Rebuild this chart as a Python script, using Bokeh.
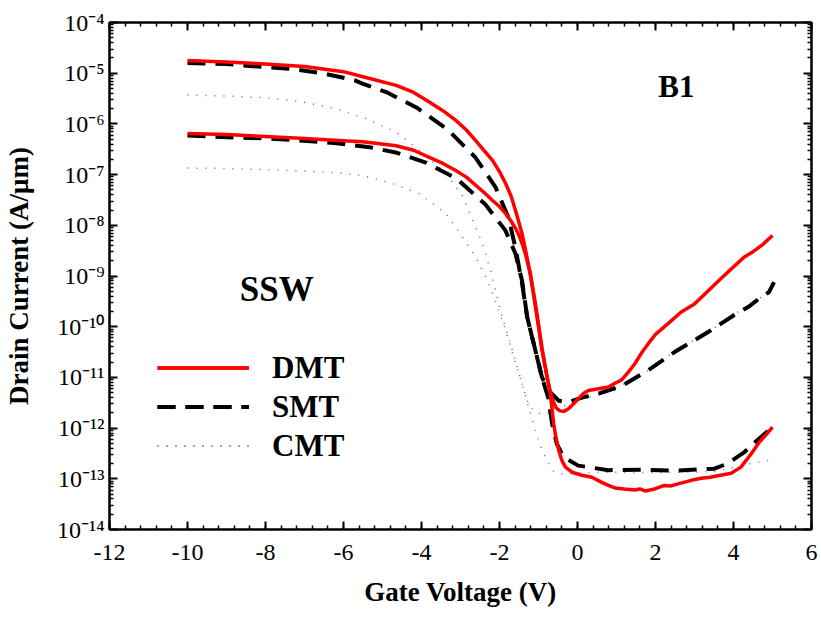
import numpy as np
from bokeh.plotting import figure
from bokeh.models import (FixedTicker, SingleIntervalTicker, LinearAxis, LogAxis,
                          CustomJSTickFormatter, Label, Legend, LegendItem)
from bokeh.embed import file_html
from bokeh.resources import INLINE

# ---------------- data (gate voltage in V, drain current as log10(A/um)) ----------------
dmt_hi_v = [-10, -9, -8, -7, -6, -5.5, -4.65, -4.2, -3.8, -3.45, -3.12, -2.85, -2.61, -2.4,
            -2.18, -2.0, -1.84, -1.7, -1.59, -1.5, -1.42, -1.33, -1.21, -1.1, -1.0, -0.91, -0.78,
            -0.7, -0.62, -0.55, -0.45, -0.35, -0.23, -0.1, 0.02, 0.15, 0.28, 0.5, 0.79, 1.0,
            1.13, 1.3, 1.47, 1.64, 1.81, 2.0, 2.32, 2.66, 3.0, 3.34, 3.68, 4.0, 4.27, 4.5, 4.75,
            5.0]
dmt_hi_log = [-4.75, -4.78, -4.82, -4.87, -4.97, -5.07, -5.24, -5.38, -5.57, -5.74, -5.93,
              -6.12, -6.33, -6.52, -6.72, -6.94, -7.18, -7.43, -7.71, -7.95, -8.17, -8.5, -8.96,
              -9.5, -10.0, -10.47, -11.0, -11.28, -11.48, -11.6, -11.66, -11.67, -11.62, -11.52,
              -11.42, -11.32, -11.26, -11.23, -11.19, -11.1, -11.05, -10.9, -10.73, -10.52,
              -10.34, -10.15, -9.94, -9.71, -9.55, -9.3, -9.05, -8.82, -8.63, -8.52, -8.38, -8.2]

dmt_lo_v = [-10, -9, -8, -7, -6, -5.5, -4.65, -4.2, -3.8, -3.45, -3.12, -2.85, -2.61, -2.4,
            -2.18, -2.0, -1.84, -1.7, -1.59, -1.5, -1.42, -1.33, -1.21, -1.1, -1.0, -0.91, -0.78,
            -0.7, -0.61, -0.55, -0.48, -0.4, -0.31, -0.14, 0.11, 0.37, 0.62, 0.79, 0.96, 1.2,
            1.47, 1.6, 1.73, 1.98, 2.23, 2.4, 2.58, 2.92, 3.17, 3.4, 3.6, 3.94, 4.19, 4.45,
            4.66, 4.85, 5.0]
dmt_lo_log = [-6.19, -6.21, -6.25, -6.29, -6.33, -6.35, -6.43, -6.52, -6.66, -6.78, -6.92,
              -7.05, -7.21, -7.35, -7.51, -7.63, -7.77, -7.92, -8.06, -8.2, -8.36, -8.58, -8.96,
              -9.45, -9.95, -10.42, -10.98, -11.3, -11.92, -12.2, -12.44, -12.64, -12.77, -12.87,
              -12.93, -12.97, -13.07, -13.13, -13.18, -13.2, -13.22, -13.2, -13.24, -13.2,
              -13.13, -13.14, -13.1, -13.03, -12.99, -12.97, -12.94, -12.89, -12.77, -12.51,
              -12.28, -12.12, -11.98]

smt_hi_v = [-10, -9, -8, -7.27, -6.48, -5.71, -5.5, -4.88, -4.12, -3.33, -2.62, -2.1, -1.77,
            -1.59, -1.42, -1.29, -1.08, -0.91, -0.7, -0.48, -0.23, 0.11, 0.54, 1.13, 1.81, 2.49,
            3.34, 4.02, 4.4, 4.7, 4.91, 5.04]
smt_hi_log = [-4.8, -4.82, -4.88, -4.92, -5.01, -5.14, -5.21, -5.38, -5.68, -6.11, -6.66, -7.25,
              -7.85, -8.45, -9.15, -9.81, -10.47, -11.0, -11.29, -11.46, -11.49, -11.4, -11.32,
              -11.17, -10.86, -10.5, -10.11, -9.77, -9.6, -9.42, -9.32, -9.12]

smt_lo_v = [-10, -8.73, -7.88, -7.03, -6.18, -5.33, -4.63, -3.87, -3.1, -2.36, -1.85, -1.59,
            -1.42, -1.29, -1.08, -0.91, -0.75, -0.65, -0.53, -0.36, 0.02, 0.79, 1.64, 2.49, 3.51,
            3.85, 4.27, 4.61, 5.0]
smt_lo_log = [-6.23, -6.27, -6.29, -6.33, -6.38, -6.46, -6.57, -6.77, -7.08, -7.59, -8.1, -8.56,
              -9.1, -9.81, -10.47, -11.0, -11.4, -11.92, -12.31, -12.57, -12.74, -12.83, -12.82,
              -12.84, -12.8, -12.7, -12.48, -12.24, -11.98]

cmt_hi_v = [-10, -9, -7.88, -7.03, -6.18, -5.41, -4.65, -4.05, -3.37, -2.95, -2.68, -2.44,
            -2.23, -1.93, -1.67, -1.42, -1.25, -1.05, -0.82, -0.5, -0.2, 0.11, 0.62, 1.13, 1.81,
            2.49, 3.34, 4.02, 4.7, 5.04]
cmt_hi_log = [-5.43, -5.45, -5.49, -5.57, -5.7, -5.9, -6.16, -6.52, -6.98, -7.42, -7.91, -8.35,
              -8.9, -9.81, -10.47, -11.13, -11.55, -11.7, -11.72, -11.62, -11.52, -11.43, -11.32,
              -11.16, -10.86, -10.48, -10.11, -9.76, -9.42, -9.18]

cmt_lo_v = [-10, -9, -8, -7.03, -6, -5.33, -4.65, -4.05, -3.37, -3.03, -2.61, -2.35, -2.1,
            -1.85, -1.6, -1.42, -1.25, -1.08, -0.91, -0.65, -0.4, 0.62, 2.0, 3.5, 4.3, 5.04]
cmt_lo_log = [-6.87, -6.88, -6.9, -6.93, -6.97, -7.05, -7.2, -7.38, -7.77, -8.14, -8.63, -9.02,
              -9.5, -10.05, -10.7, -11.13, -11.59, -12.05, -12.44, -12.84, -12.9, -12.87, -12.88,
              -12.86, -12.72, -12.62]

series_names = ["DMT", "SMT", "CMT"]
x_tick_interval = 2
y_decades = list(range(-14, -3))  # 10^-14 ... 10^-4

FONT = "Liberation Serif"

p = figure(width=821, height=620, x_range=(-12, 6), y_range=(1e-14, 1e-4),
           y_axis_type="log", output_backend="svg", toolbar_location=None,
           min_border_left=105, min_border_right=10, min_border_top=22, min_border_bottom=91)
p.xgrid.visible = False
p.ygrid.visible = False
p.outline_line_color = "black"
p.outline_line_width = 2
p.background_fill_color = "white"
p.border_fill_color = "white"

xticker = SingleIntervalTicker(interval=x_tick_interval, num_minor_ticks=5)
yticker = FixedTicker(ticks=[10.0 ** e for e in y_decades],
                      minor_ticks=[m * 10.0 ** e for e in y_decades[:-1] for m in range(2, 10)])

yfmt = CustomJSTickFormatter(code="""
const sup = {'0':'\u2070','1':'\u00b9','2':'\u00b2','3':'\u00b3','4':'\u2074','5':'\u2075',
             '6':'\u2076','7':'\u2077','8':'\u2078','9':'\u2079','-':'\u207b'};
const e = Math.round(Math.log10(tick));
return '10' + String(e).split('').map(c => sup[c]).join('');
""")
xfmt = CustomJSTickFormatter(code="return tick.toFixed(0);")
blank = CustomJSTickFormatter(code="return '';")


def style(ax):
    ax.axis_line_width = 2
    ax.axis_line_color = "black"
    ax.major_tick_in = 8
    ax.major_tick_out = 0
    ax.minor_tick_in = 4
    ax.minor_tick_out = 0
    ax.major_tick_line_width = 2
    ax.minor_tick_line_width = 1.5
    ax.major_tick_line_color = "black"
    ax.minor_tick_line_color = "black"
    ax.major_label_text_font = FONT
    ax.major_label_text_font_size = "24px"
    ax.major_label_text_color = "black"
    ax.axis_label_text_font = FONT
    ax.axis_label_text_font_style = "bold"
    ax.axis_label_text_font_size = "27px"
    ax.axis_label_text_color = "black"


xa = p.xaxis[0]
xa.ticker = xticker
xa.formatter = xfmt
style(xa)
xa.major_label_standoff = 15
xa.axis_label = "Gate Voltage (V)"
xa.axis_label_standoff = 14

ya = p.yaxis[0]
ya.ticker = yticker
ya.formatter = yfmt
style(ya)
ya.major_label_standoff = 5
ya.axis_label = "Drain Current (A/\u03bcm)"
ya.axis_label_standoff = 20

top = LinearAxis(ticker=xticker, formatter=blank)
style(top)
top.major_label_standoff = 0
p.add_layout(top, "above")

right = LogAxis(ticker=yticker, formatter=blank)
style(right)
right.major_label_standoff = 0
p.add_layout(right, "right")


def curr(logs):
    return [10.0 ** v for v in logs]


c_hi = p.line(cmt_hi_v, curr(cmt_hi_log), line_color="#5a5aff", line_width=1.5, line_dash="1 8")
c_lo = p.line(cmt_lo_v, curr(cmt_lo_log), line_color="#5a5aff", line_width=1.5, line_dash="1 8")
s_hi = p.line(smt_hi_v, curr(smt_hi_log), line_color="black", line_width=4, line_dash="18 10")
s_lo = p.line(smt_lo_v, curr(smt_lo_log), line_color="black", line_width=4, line_dash="18 10")
d_hi = p.line(dmt_hi_v, curr(dmt_hi_log), line_color="#ff0000", line_width=3.5)
d_lo = p.line(dmt_lo_v, curr(dmt_lo_log), line_color="#ff0000", line_width=3.5)

legend = Legend(items=[LegendItem(label=series_names[0], renderers=[d_hi, d_lo]),
                       LegendItem(label=series_names[1], renderers=[s_hi, s_lo]),
                       LegendItem(label=series_names[2], renderers=[c_hi, c_lo])],
                location=(48, 64), glyph_width=92, glyph_height=39, label_height=39,
                label_standoff=23, spacing=0, padding=0, margin=0,
                border_line_color=None, background_fill_alpha=0,
                label_text_font=FONT, label_text_font_style="bold",
                label_text_font_size="31px", label_text_color="black")
p.add_layout(legend)

p.add_layout(Label(x=-8.66, y=5.4e-10, text="SSW", text_font=FONT, text_font_style="bold",
                   text_font_size="35px", text_baseline="alphabetic", text_color="black"))
p.add_layout(Label(x=2.07, y=5.5e-6, text="B1", text_font=FONT, text_font_style="bold",
                   text_font_size="31px", text_baseline="alphabetic", text_color="black"))

open("out.html", "w").write(file_html(p, INLINE))
